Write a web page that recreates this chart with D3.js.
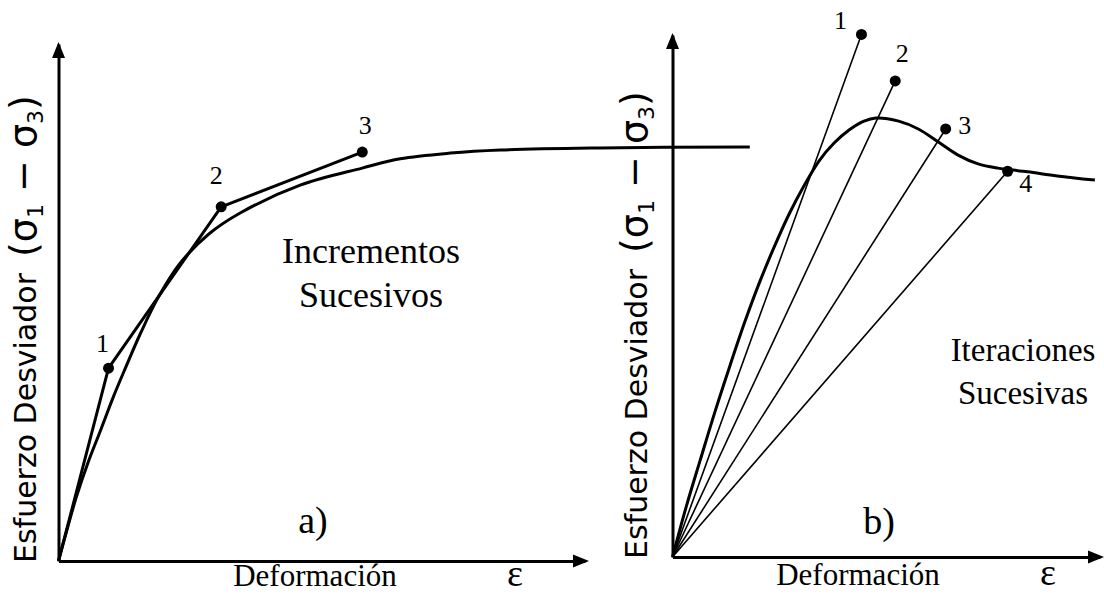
<!DOCTYPE html>
<html>
<head>
<meta charset="utf-8">
<script src="https://cdn.jsdelivr.net/npm/d3@7"></script>
<style>
body { margin: 0; background: #fff; }
svg { display: block; }
.serif { font-family: "Liberation Serif", "Times New Roman", serif; }
.sans { font-family: "DejaVu Sans", Verdana, sans-serif; }
</style>
</head>
<body>
<svg></svg>
<script>
// a) incrementos sucesivos: curva real y pasos
const curveA_strain = [0, 1.6, 3.4, 5.7, 8.0, 10.4, 12.7, 15.6, 19.0, 23.1, 28.5, 34.5, 45.9, 57.7, 64.9, 74.4, 83.9, 102.8, 131.3]
const curveA_stress = [0, 6.0, 12.4, 19.3, 25.3, 31.7, 37.3, 44.1, 51.1, 57.6, 63.2, 67.3, 72.7, 76.0, 77.8, 78.9, 79.5, 79.9, 80.1]
const stepsA_strain = [0, 9.5, 30.9, 57.7]
const stepsA_stress = [0, 37.3, 68.5, 79.1]
const stepsA_labels = ["", "1", "2", "3"]

// b) iteraciones sucesivas: curva con pico y rectas secantes
const curveB_strain = [0, 3.2, 6.5, 10.0, 13.5, 16.9, 20.4, 23.9, 27.4, 30.9, 34.3, 37.8, 41.3, 44.8, 47.6, 52.9, 57.5, 62.2, 66.8, 71.5, 76.1, 83.1, 90.0, 98.8]
const curveB_stress = [0, 9.6, 18.6, 28.0, 36.8, 45.0, 52.7, 59.6, 65.9, 71.3, 75.9, 79.3, 81.8, 83.5, 84.1, 83.5, 82.0, 79.5, 77.0, 75.3, 74.5, 73.8, 73.0, 72.2]
const itersB_strain = [44.2, 52.1, 63.9, 78.4]
const itersB_stress = [100.1, 91.2, 82.0, 73.9]
const itersB_labels = ["1", "2", "3", "4"]

const svg = d3.select("svg")
svg
	.attr("width", 1104)
	.attr("height", 594)

// label offsets (px) from each dot
const offsA = [[0, 0], [-6, -16], [-5, -23], [3, -18]]
const offsB = [[-21, -5], [7, -19], [19, 5], [18, 21]]

const panels = [
	{ x0: 58.5, x1: 585, y0: 561, y1: 44, labelX: 36, curveX: curveA_strain, curveY: curveA_stress,
	  title: ["Incrementos", "Sucesivos"], titleX: 371, titleY: 263, titleSize: 36, titleGap: 44,
	  tag: "a)", tagX: 313, tagY: 533,
	  defX: 315, defY: 586, epsX: 515, epsY: 586 },
	{ x0: 672.5, x1: 1100, y0: 557, y1: 35, labelX: 647, curveX: curveB_strain, curveY: curveB_stress,
	  title: ["Iteraciones", "Sucesivas"], titleX: 1023, titleY: 361, titleSize: 33, titleGap: 43,
	  tag: "b)", tagX: 879, tagY: 534,
	  defX: 858, defY: 585, epsX: 1048, epsY: 585 }
]

const drawPanel = function (p, idx) {
	const g = svg.append("g").attr("class", "panel")

	const scaleX = d3.scaleLinear()
		.domain([0, 100])
		.range([p.x0, p.x1])

	const scaleY = d3.scaleLinear()
		.domain([0, 100])
		.range([p.y0, p.y1])

	// axes: only the domain line, no ticks
	g.append("g")
		.attr("transform", `translate(0,${scaleY(0)})`)
		.call(d3.axisBottom(scaleX).tickValues([]).tickSizeOuter(0))
		.select(".domain")
		.attr("stroke", "#000")
		.attr("stroke-width", 3)

	g.append("g")
		.attr("transform", `translate(${scaleX(0)},0)`)
		.call(d3.axisLeft(scaleY).tickValues([]).tickSizeOuter(0))
		.select(".domain")
		.attr("stroke", "#000")
		.attr("stroke-width", 3)

	// arrow heads
	const ax = scaleX(100), ay = scaleY(0)
	g.append("path")
		.attr("d", `M${ax + 4},${ay} L${ax - 12},${ay - 6.5} L${ax - 12},${ay + 6.5} Z`)
		.attr("fill", "#000")
	const bx = scaleX(0), by = scaleY(100)
	g.append("path")
		.attr("d", `M${bx},${by - 2} L${bx - 6.5},${by + 14} L${bx + 6.5},${by + 14} Z`)
		.attr("fill", "#000")

	const line = d3.line()
		.x(d => scaleX(d[0]))
		.y(d => scaleY(d[1]))

	// real curve
	const curve = p.curveX.map((v, i) => [v, p.curveY[i]])
	g.append("path")
		.datum(curve)
		.attr("d", line.curve(d3.curveCatmullRom.alpha(0.5)))
		.attr("fill", "none")
		.attr("stroke", "#000")
		.attr("stroke-width", 3)
		.attr("stroke-linejoin", "round")

	let pts, labels, offs
	if (idx === 0) {
		pts = stepsA_strain.map((v, i) => [v, stepsA_stress[i]])
		labels = stepsA_labels
		offs = offsA
		g.append("path")
			.datum(pts)
			.attr("d", d3.line().x(d => scaleX(d[0])).y(d => scaleY(d[1])))
			.attr("fill", "none")
			.attr("stroke", "#000")
			.attr("stroke-width", 3)
			.attr("stroke-linejoin", "round")
		pts = pts.slice(1); labels = labels.slice(1); offs = offs.slice(1)
	} else {
		pts = itersB_strain.map((v, i) => [v, itersB_stress[i]])
		labels = itersB_labels
		offs = offsB
		g.selectAll("line.ray")
			.data(pts)
			.enter()
			.append("line")
			.attr("class", "ray")
			.attr("x1", scaleX(0))
			.attr("y1", scaleY(0))
			.attr("x2", d => scaleX(d[0]))
			.attr("y2", d => scaleY(d[1]))
			.attr("stroke", "#000")
			.attr("stroke-width", 1.6)
	}

	g.selectAll("circle.dot")
		.data(pts)
		.enter()
		.append("circle")
		.attr("class", "dot")
		.attr("cx", d => scaleX(d[0]))
		.attr("cy", d => scaleY(d[1]))
		.attr("r", 5.5)
		.attr("fill", "#000")

	g.selectAll("text.num")
		.data(pts)
		.enter()
		.append("text")
		.attr("class", "num serif")
		.attr("x", (d, i) => scaleX(d[0]) + offs[i][0])
		.attr("y", (d, i) => scaleY(d[1]) + offs[i][1])
		.attr("text-anchor", "middle")
		.attr("font-size", 26)
		.text((d, i) => labels[i])

	// y label
	const yl = g.append("text")
		.attr("class", "sans")
		.attr("transform", `translate(${p.labelX},${p.y0 + 2}) rotate(-90)`)
		.attr("font-size", 30)
	yl.append("tspan").text("Esfuerzo Desviador")
	yl.append("tspan").attr("dx", 16).attr("font-size", 38).text("(σ")
	yl.append("tspan").attr("font-size", 22).attr("dy", 7).text("1")
	yl.append("tspan").attr("font-size", 38).attr("dy", -7).text(" − σ")
	yl.append("tspan").attr("font-size", 22).attr("dy", 7).text("3")
	yl.append("tspan").attr("font-size", 38).attr("dy", -7).text(")")

	// x label
	g.append("text")
		.attr("class", "serif")
		.attr("x", p.defX)
		.attr("y", p.defY)
		.attr("text-anchor", "middle")
		.attr("font-size", 31)
		.text("Deformación")
	g.append("text")
		.attr("class", "serif")
		.attr("x", p.epsX)
		.attr("y", p.epsY)
		.attr("text-anchor", "middle")
		.attr("font-size", 38)
		.text("ε")

	// method title
	g.selectAll("text.title")
		.data(p.title)
		.enter()
		.append("text")
		.attr("class", "title serif")
		.attr("x", p.titleX)
		.attr("y", (d, i) => p.titleY + i * p.titleGap)
		.attr("text-anchor", "middle")
		.attr("font-size", p.titleSize)
		.text(d => d)

	g.append("text")
		.attr("class", "serif")
		.attr("x", p.tagX)
		.attr("y", p.tagY)
		.attr("text-anchor", "middle")
		.attr("font-size", 38)
		.text(p.tag)
}

panels.forEach(drawPanel)
</script>
</body>
</html>
